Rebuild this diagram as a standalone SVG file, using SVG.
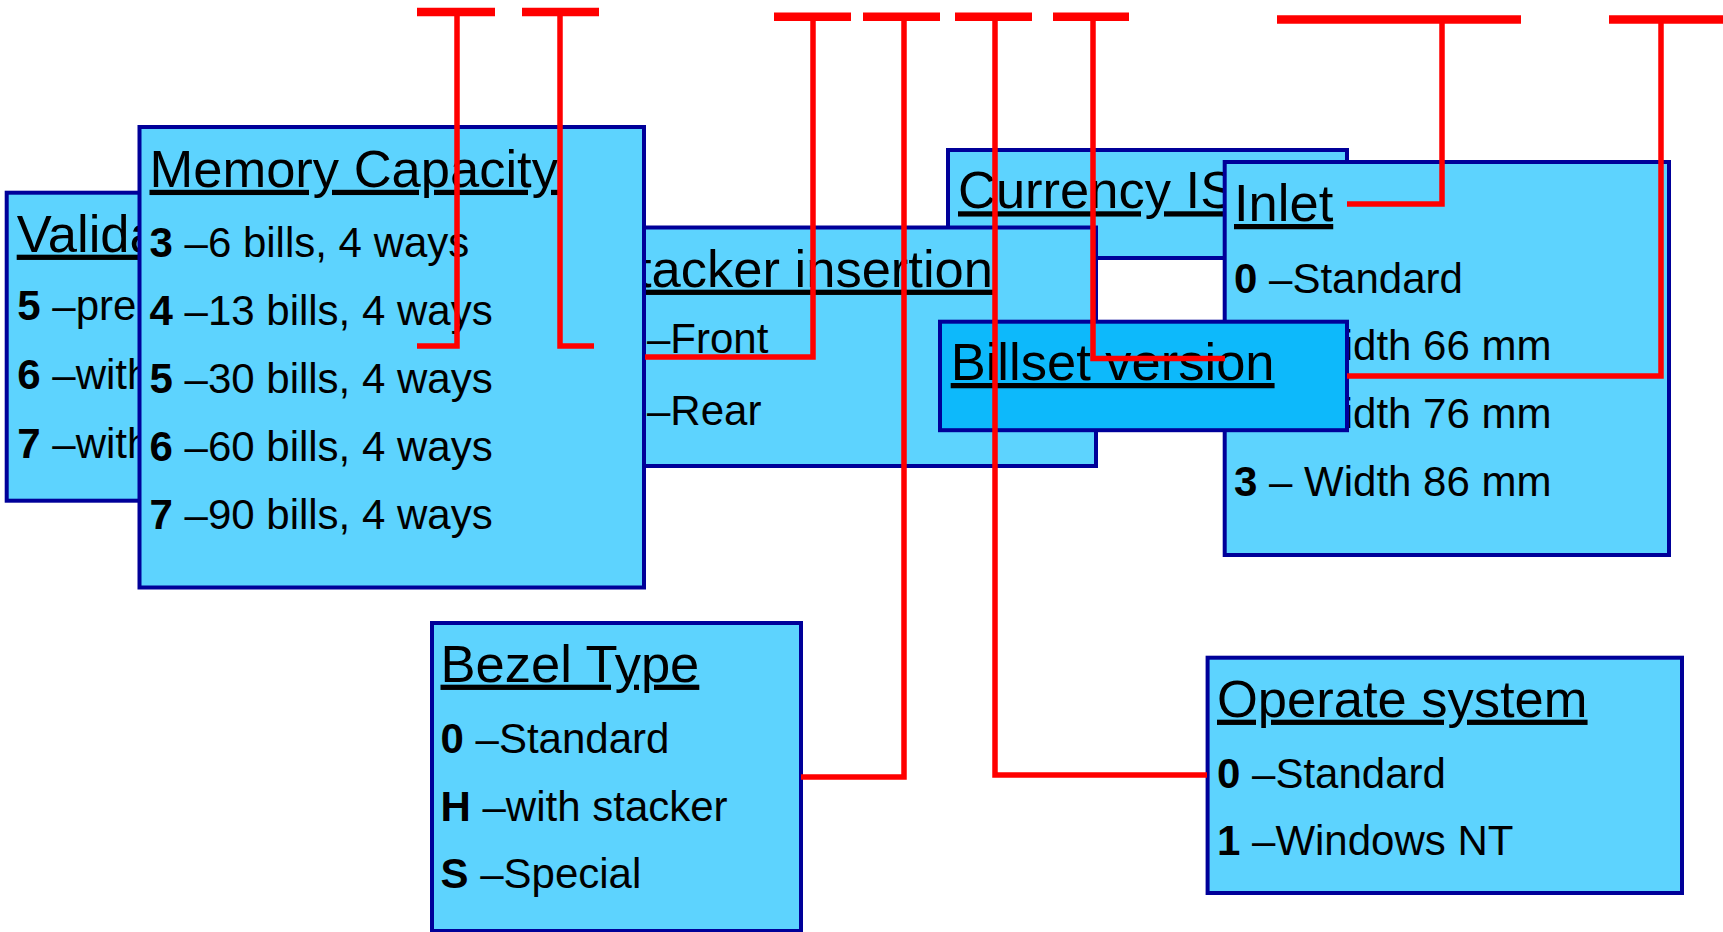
<svg xmlns="http://www.w3.org/2000/svg" width="1723" height="932" viewBox="0 0 1723 932">
<style>
.box{fill:#5DD3FE;stroke:#000099;stroke-width:4}
.dark{fill:#0DB9FB}
text{font-family:"Liberation Sans",Arial,sans-serif;fill:#000}
.t{font-size:52.5px;text-decoration:underline}
.i{font-size:42px}
.b{font-weight:bold}
.bar{stroke:#FF0000;stroke-width:8.5;fill:none}
.ln{stroke:#FF0000;stroke-width:5.5;fill:none;stroke-linejoin:miter}
</style>
<defs>
<clipPath id="clipVal"><rect x="0" y="190" width="139.5" height="315"/></clipPath>
<clipPath id="clipStk"><rect x="644" y="225" width="460" height="245"/></clipPath>
</defs>
<rect width="1723" height="932" fill="#fff"/>
<g id="validation">
<rect class="box" x="6.7" y="192.7" width="300" height="308"/>
<g clip-path="url(#clipVal)">
<text class="t" x="16.7" y="251.7">Valida</text>
<text class="i" x="17.3" y="320"><tspan class="b">5</tspan> –pre</text>
<text class="i" x="17.3" y="389.3"><tspan class="b">6</tspan> –with</text>
<text class="i" x="17.3" y="458.3"><tspan class="b">7</tspan> –with</text>
</g>
</g>
<g id="currency">
<rect class="box" x="948" y="150" width="399" height="108"/>
<text class="t" x="958" y="208.3">Currency IS</text>
</g>
<g id="stacker">
<rect class="box" x="560" y="227.5" width="536" height="238.5"/>
<g clip-path="url(#clipStk)">
<text class="t" x="637" y="286.7">tacker insertion</text>
</g>
<text class="i" x="647" y="353.3">–Front</text>
<text class="i" x="647" y="425">–Rear</text>
</g>
<g id="memory">
<rect class="box" x="139.5" y="127" width="504.5" height="460.5"/>
<text class="t" x="149.5" y="186.8">Memory Capacity</text>
<text class="i" x="149.5" y="256.5"><tspan class="b">3</tspan> –6 bills, 4 ways</text>
<text class="i" x="149.5" y="324.5"><tspan class="b">4</tspan> –13 bills, 4 ways</text>
<text class="i" x="149.5" y="392.5"><tspan class="b">5</tspan> –30 bills, 4 ways</text>
<text class="i" x="149.5" y="460.5"><tspan class="b">6</tspan> –60 bills, 4 ways</text>
<text class="i" x="149.5" y="528.5"><tspan class="b">7</tspan> –90 bills, 4 ways</text>
</g>
<g id="inlet">
<rect class="box" x="1224.7" y="162" width="444.3" height="393"/>
<text class="t" x="1234" y="221">Inlet</text>
<text class="i" x="1234" y="292.8"><tspan class="b">0</tspan> –Standard</text>
<text class="i" x="1343.7" y="359.7">idth 66 mm</text>
<text class="i" x="1343.7" y="428">idth 76 mm</text>
<text class="i" x="1234" y="495.6"><tspan class="b">3</tspan> – Width 86 mm</text>
</g>
<g id="billset">
<rect class="box dark" x="940" y="321.7" width="407" height="108.5"/>
<text class="t" x="950.7" y="380">Billset version</text>
</g>
<g id="bezel">
<rect class="box" x="432" y="623" width="369" height="308"/>
<text class="t" x="440.5" y="681.7">Bezel Type</text>
<text class="i" x="440.5" y="753"><tspan class="b">0</tspan> –Standard</text>
<text class="i" x="440.5" y="820.7"><tspan class="b">H</tspan> –with stacker</text>
<text class="i" x="440.5" y="888"><tspan class="b">S</tspan> –Special</text>
</g>
<g id="operate">
<rect class="box" x="1207.6" y="657.7" width="474.4" height="235.3"/>
<text class="t" x="1217" y="716.7">Operate system</text>
<text class="i" x="1217" y="787.7"><tspan class="b">0</tspan> –Standard</text>
<text class="i" x="1217" y="855"><tspan class="b">1</tspan> –Windows NT</text>
</g>
<g id="connectors">
<line class="bar" x1="417" y1="12" x2="495" y2="12"/>
<path class="ln" d="M457,12 V346 H417"/>
<line class="bar" x1="522" y1="12" x2="599" y2="12"/>
<path class="ln" d="M560,12 V346 H594"/>
<line class="bar" x1="774" y1="16.7" x2="851" y2="16.7"/>
<path class="ln" d="M813,16.7 V357 H645"/>
<line class="bar" x1="863" y1="16.7" x2="940" y2="16.7"/>
<path class="ln" d="M904,16.7 V777 H801"/>
<line class="bar" x1="955" y1="16.7" x2="1032" y2="16.7"/>
<path class="ln" d="M995,16.7 V775 H1207"/>
<line class="bar" x1="1053" y1="16.7" x2="1129" y2="16.7"/>
<path class="ln" d="M1093,16.7 V358.5 H1225"/>
<line class="bar" x1="1277" y1="19.5" x2="1521" y2="19.5"/>
<path class="ln" d="M1442,19.5 V204 H1347"/>
<line class="bar" x1="1609" y1="19.5" x2="1723" y2="19.5"/>
<path class="ln" d="M1661,19.5 V376 H1347"/>
</g>
</svg>
